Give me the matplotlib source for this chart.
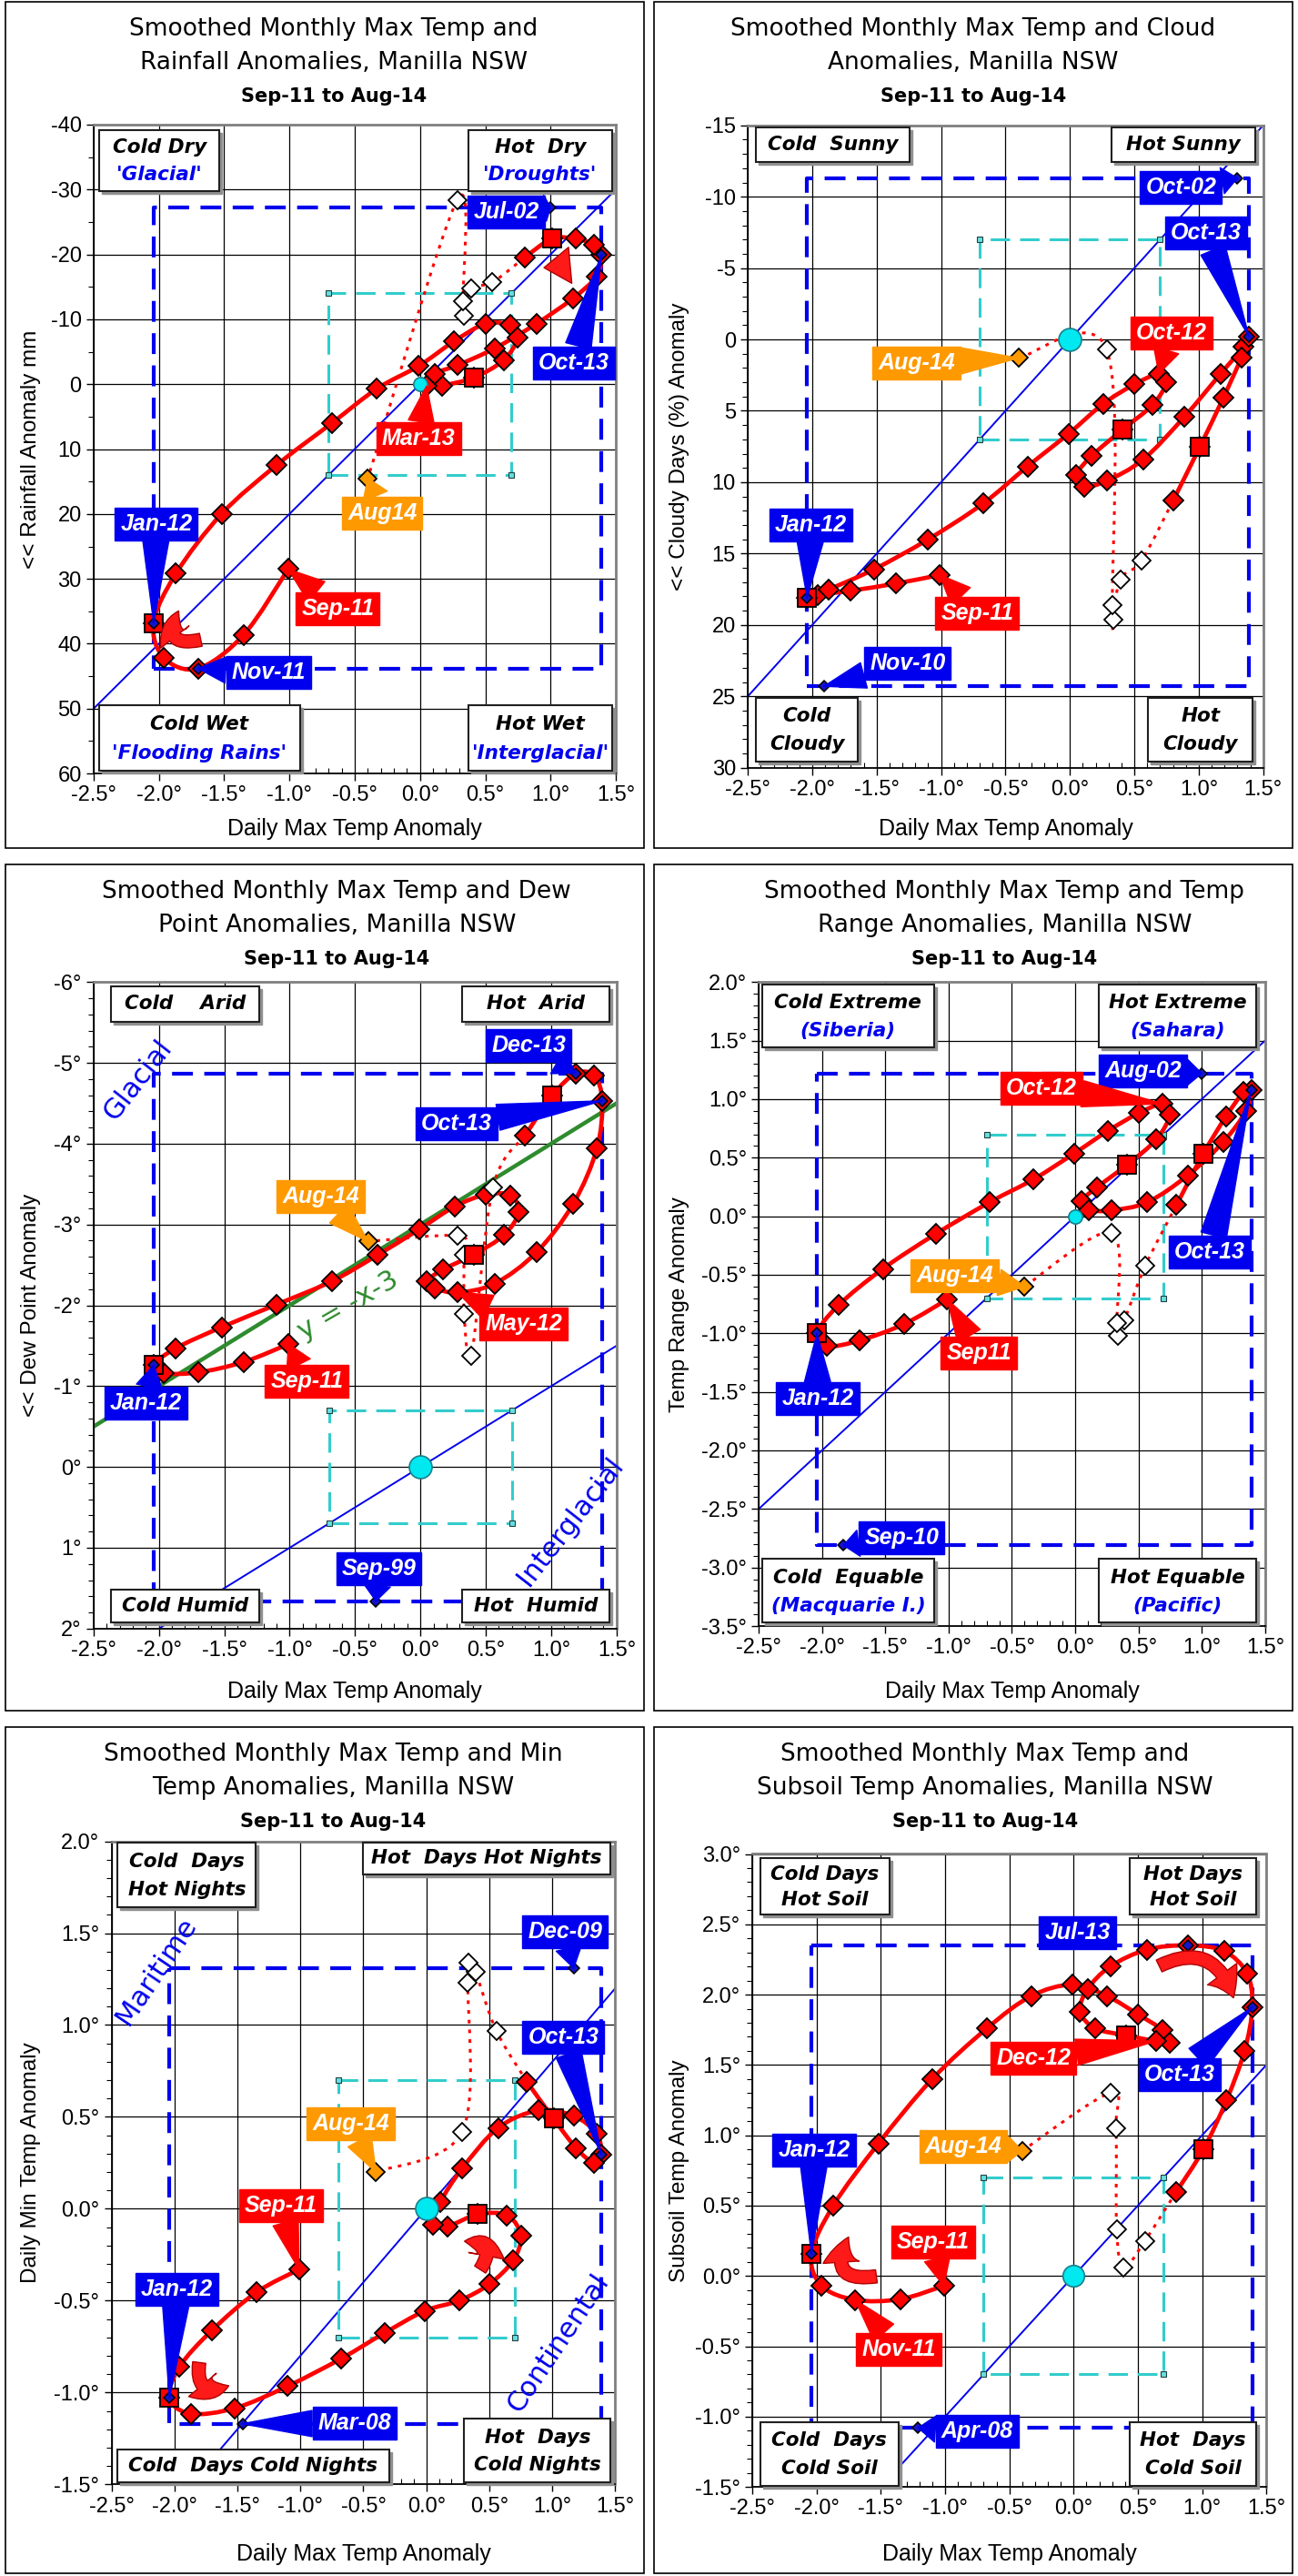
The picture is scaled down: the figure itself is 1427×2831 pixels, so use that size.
import numpy as np
import matplotlib
matplotlib.use("Agg")
import matplotlib.pyplot as plt
from matplotlib.path import Path
from matplotlib.patches import PathPatch, Rectangle, FancyArrowPatch
from matplotlib import font_manager, transforms

# ---------------- data ----------------
months = ['Sep-11', 'Oct-11', 'Nov-11', 'Dec-11', 'Jan-12', 'Feb-12', 'Mar-12', 'Apr-12',
          'May-12', 'Jun-12', 'Jul-12', 'Aug-12', 'Sep-12', 'Oct-12', 'Nov-12', 'Dec-12',
          'Jan-13', 'Feb-13', 'Mar-13', 'Apr-13', 'May-13', 'Jun-13', 'Jul-13', 'Aug-13',
          'Sep-13', 'Oct-13', 'Nov-13', 'Dec-13', 'Jan-14', 'Feb-14', 'Mar-14', 'Apr-14',
          'May-14', 'Jun-14', 'Jul-14', 'Aug-14']
n_smooth = 30  # Sep-11..Feb-14 smoothed; Mar-14..Jul-14 provisional; Aug-14 latest

max_anom = [-1.01, -1.35, -1.70, -1.96, -2.04, -1.87, -1.52, -1.10, -0.675, -0.33,
            -0.01, 0.26, 0.50, 0.69, 0.75, 0.64, 0.41, 0.17, 0.05, 0.11,
            0.285, 0.57, 0.89, 1.17, 1.35, 1.39, 1.33, 1.19, 1.01, 0.80,
            0.555, 0.39, 0.335, 0.33, 0.285, -0.40]

rain_anom = [28.5, 38.6, 43.8, 42.2, 36.8, 29.2, 20.0, 12.5, 6.0, 0.7,
             -2.8, -6.6, -9.3, -9.1, -7.2, -3.7, -1.0, 0.2, 0.3, -1.6,
             -2.9, -5.5, -9.3, -13.2, -16.6, -19.9, -21.5, -22.4, -22.4, -19.5,
             -15.7, -14.7, -10.5, -12.8, -28.4, 14.5]

cloud_anom = [16.5, 17.1, 17.6, 17.9, 18.1, 17.5, 16.1, 14.0, 11.5, 8.9,
              6.6, 4.5, 3.15, 2.4, 3.0, 4.6, 6.3, 8.15, 9.5, 10.3,
              9.9, 8.4, 5.4, 2.4, 0.5, -0.2, 1.3, 4.1, 7.5, 11.3,
              15.5, 16.8, 19.6, 18.6, 0.7, 1.3]

dew_anom = [-1.52, -1.30, -1.17, -1.16, -1.26, -1.47, -1.73, -2.01, -2.30, -2.62,
            -2.94, -3.22, -3.37, -3.36, -3.15, -2.87, -2.63, -2.44, -2.30, -2.21,
            -2.16, -2.27, -2.66, -3.26, -3.94, -4.53, -4.84, -4.87, -4.60, -4.10,
            -3.46, -1.38, -1.89, -2.62, -2.86, -2.79]

range_anom = [-0.71, -0.92, -1.06, -1.11, -1.00, -0.76, -0.45, -0.15, 0.12, 0.315,
              0.535, 0.73, 0.88, 0.96, 0.87, 0.655, 0.44, 0.245, 0.13, 0.055,
              0.05, 0.12, 0.35, 0.635, 0.90, 1.08, 1.06, 0.85, 0.53, 0.095,
              -0.42, -0.885, -1.02, -0.91, -0.14, -0.60]

min_anom = [-0.33, -0.455, -0.66, -0.86, -1.03, -1.115, -1.085, -0.965, -0.815, -0.675,
            -0.555, -0.50, -0.41, -0.28, -0.145, -0.035, -0.03, -0.095, -0.085, 0.035,
            0.22, 0.44, 0.535, 0.505, 0.41, 0.295, 0.25, 0.33, 0.49, 0.69,
            0.97, 1.29, 1.34, 1.23, 0.42, 0.20]

soil_anom = [-0.07, -0.165, -0.17, -0.07, 0.155, 0.50, 0.94, 1.40, 1.76, 1.99,
             2.07, 1.99, 1.86, 1.75, 1.66, 1.67, 1.71, 1.76, 1.88, 2.04,
             2.20, 2.32, 2.35, 2.31, 2.15, 1.91, 1.60, 1.25, 0.90, 0.60,
             0.25, 0.06, 0.33, 1.05, 1.30, 0.89]

# record extremes (blue diamonds) for each pair
rain_ext_months = ['Jul-02', 'Oct-13', 'Jan-12', 'Nov-11']
rain_ext_x = [1.00, 1.39, -2.04, -1.70]
rain_ext_y = [-27.2, -19.9, 36.8, 43.8]

cloud_ext_months = ['Oct-02', 'Oct-13', 'Jan-12', 'Nov-10']
cloud_ext_x = [1.30, 1.39, -2.04, -1.91]
cloud_ext_y = [-11.3, -0.2, 18.1, 24.3]

dew_ext_months = ['Dec-13', 'Oct-13', 'Jan-12', 'Sep-99']
dew_ext_x = [1.19, 1.39, -2.04, -0.34]
dew_ext_y = [-4.87, -4.53, -1.26, 1.66]

range_ext_months = ['Aug-02', 'Oct-13', 'Jan-12', 'Sep-10']
range_ext_x = [1.00, 1.39, -2.04, -1.83]
range_ext_y = [1.22, 1.08, -1.00, -2.81]

min_ext_months = ['Dec-09', 'Oct-13', 'Jan-12', 'Mar-08']
min_ext_x = [1.17, 1.39, -2.04, -1.46]
min_ext_y = [1.31, 0.295, -1.03, -1.17]

soil_ext_months = ['Jul-13', 'Oct-13', 'Jan-12', 'Apr-08']
soil_ext_x = [0.89, 1.39, -2.04, -1.21]
soil_ext_y = [2.35, 1.91, 0.155, -1.08]

x_ticks = [-2.5, -2.0, -1.5, -1.0, -0.5, 0.0, 0.5, 1.0, 1.5]

# ---------------- styling ----------------
RED = '#ff0000'
BLUE = '#0000ee'
ORANGE = '#ff9900'
CYAN = '#33cccc'

_names = {f.name for f in font_manager.fontManager.ttflist}
if 'Liberation Sans Narrow' in _names:
    YLAB_FONT, YLAB_SIZE = 'Liberation Sans Narrow', 21
else:
    YLAB_FONT, YLAB_SIZE = 'Liberation Sans', 17.5

plt.rcParams['font.family'] = ['DejaVu Sans']

W, H = 1427, 2831
fig = plt.figure(figsize=(W / 100, H / 100), dpi=100)

panel_left = [6, 719]
panel_top = [2, 950, 1898]
panel_w = 702
panel_h = 930


def smooth_path(xs, ys):
    pts = np.column_stack([xs, ys]).astype(float)
    n = len(pts)
    verts = [pts[0]]
    codes = [Path.MOVETO]
    for i in range(n - 1):
        p0 = pts[i - 1] if i > 0 else pts[i]
        p1 = pts[i]
        p2 = pts[i + 1]
        p3 = pts[i + 2] if i + 2 < n else pts[i + 1]
        verts += [p1 + (p2 - p0) / 6, p2 - (p3 - p1) / 6, p2]
        codes += [Path.CURVE4] * 3
    return Path(verts, codes)


def draw_panel(col, row, p):
    pl, pt = panel_left[col], panel_top[row]
    pw, ph = panel_w, panel_h
    fig.add_artist(Rectangle((pl / W, 1 - (pt + ph) / H), pw / W, ph / H,
                             transform=fig.transFigure, fill=False, ec='black', lw=1.2))
    l, r, t, b = p['box']
    ax = fig.add_axes([(pl + l * pw) / W, 1 - (pt + b * ph) / H,
                       (r - l) * pw / W, (b - t) * ph / H])

    # titles
    tx = (pl + p['tx'] * pw) / W
    fig.text(tx, 1 - (pt + 0.032 * ph) / H, p['title'][0], ha='center', va='center', size=19)
    fig.text(tx, 1 - (pt + 0.072 * ph) / H, p['title'][1], ha='center', va='center', size=19)
    fig.text(tx, 1 - (pt + 0.112 * ph) / H, 'Sep-11 to Aug-14', ha='center', va='center',
             size=15, weight='bold')
    fig.text((pl + 0.04 * pw) / W, 1 - (pt + (t + b) / 2 * ph) / H, p['ylabel'],
             rotation=90, ha='center', va='center', size=YLAB_SIZE, family=YLAB_FONT)
    fig.text((pl + (l + r) / 2 * pw) / W, 1 - (pt + 0.977 * ph) / H, 'Daily Max Temp Anomaly',
             ha='center', va='center', size=18, family='Liberation Sans')

    xs = np.array(max_anom)
    ys = np.array(p['y'])
    ex = np.array(p['ext_x'])
    ey = np.array(p['ext_y'])

    ax.set_xlim(-2.5, 1.5)
    ax.set_ylim(*p['ylim'])
    ax.set_xticks(x_ticks)
    ax.set_xticklabels([f'{v:.1f}°' for v in x_ticks])
    ax.set_yticks(p['yticks'])
    ax.set_yticklabels([p['yfmt'](v) for v in p['yticks']])
    ax.set_xticks(np.arange(-2.5, 1.501, 0.1), minor=True)
    ax.set_yticks(p['yminor'], minor=True)
    for lab in ax.get_xticklabels() + ax.get_yticklabels():
        lab.set_family('Liberation Sans')
        lab.set_fontsize(17)
    ax.tick_params(which='major', length=6, width=1, direction='out')
    ax.tick_params(axis='x', which='minor', length=4, width=0.8, direction='in')
    ax.tick_params(axis='y', which='minor', length=4, width=0.8, direction='out')
    ax.grid(True, which='major', color='black', lw=0.9)
    ax.set_axisbelow(True)
    for s in ['left', 'bottom']:
        ax.spines[s].set_color('black')
        ax.spines[s].set_linewidth(1.3)
    for s in ['top', 'right']:
        ax.spines[s].set_color('#808080')
        ax.spines[s].set_linewidth(2)

    # reference lines
    lx = np.array([-2.5, 1.5])
    ax.plot(lx, p['slope'] * lx, color=BLUE, lw=1.4, zorder=1.5)
    if p.get('green'):
        ax.plot(lx, -lx - 3, color='#2e8b2e', lw=3.2, zorder=1.6)

    # central +-0.7 box
    bx, by = 0.7, p['cbox']
    cx = [-bx, bx, bx, -bx, -bx]
    cy = [by, by, -by, -by, by]
    ax.plot(cx, cy, color=CYAN, lw=2.2, dashes=(7, 3.6), zorder=1.8)
    ax.plot(cx[:4], cy[:4], 's', ms=4, mfc='#66e0e0', mec='#204040', mew=0.8, ls='none', zorder=1.9)

    # record-extremes box
    rx0, rx1, ry0, ry1 = ex.min(), ex.max(), ey.min(), ey.max()
    ax.plot([rx0, rx1, rx1, rx0, rx0], [ry1, ry1, ry0, ry0, ry1], color=BLUE, lw=3,
            dashes=(5.5, 3), zorder=2)

    # trajectory
    ax.add_patch(PathPatch(smooth_path(xs[:n_smooth], ys[:n_smooth]), fill=False,
                           ec=RED, lw=3.4, zorder=3))
    ax.add_patch(PathPatch(smooth_path(xs[n_smooth - 1:], ys[n_smooth - 1:]), fill=False,
                           ec=RED, lw=2.2, linestyle=(0, (1.3, 2.2)), zorder=3))

    ax.plot(xs[:n_smooth], ys[:n_smooth], 'D', ms=11, mfc=RED, mec='black', mew=1.3,
            ls='none', zorder=4)
    jan = [i for i, m in enumerate(months[:n_smooth]) if m.startswith('Jan')]
    ax.plot(xs[jan], ys[jan], 's', ms=15, mfc=RED, mec='black', mew=1.3, ls='none', zorder=4.2)
    ax.plot(xs[n_smooth:-1], ys[n_smooth:-1], 'D', ms=10.5, mfc='white', mec='black', mew=1.3,
            ls='none', zorder=4)
    ax.plot(xs[-1:], ys[-1:], 'D', ms=10, mfc=ORANGE, mec='black', mew=1.3, ls='none', zorder=4.3)
    ax.plot([0], [0], 'o', ms=p['circle'], mfc='#00e8f0', mec='#1a7f8a', mew=1.2, zorder=4.1)
    ax.plot(ex, ey, 'D', ms=6.6, mfc='#1414c8', mec='black', mew=1.1, ls='none', zorder=5)

    def target(name):
        if name in p['ext_m']:
            i = p['ext_m'].index(name)
            return ex[i], ey[i]
        i = months.index(name)
        return xs[i], ys[i]

    # call-out labels
    for text, colr, lx_, ly_, ref in p['callouts']:
        kw = dict(ha='center', va='center', color='white', size=18, weight='bold',
                  style='italic', family='Liberation Sans', zorder=6,
                  bbox=dict(boxstyle='square,pad=0.24', fc=colr, ec=colr))
        if ref is None:
            ax.text(lx_, ly_, text, **kw)
        else:
            ax.annotate(text, xy=target(ref), xytext=(lx_, ly_), textcoords='data',
                        arrowprops=dict(arrowstyle='wedge,tail_width=1.15,shrink_factor=0.5',
                                        fc=colr, ec=colr, shrinkA=0, shrinkB=0), **kw)

    # quadrant boxes
    shadow = transforms.offset_copy(ax.transAxes, fig=fig, x=3, y=-3, units='dots')
    for x0, y0, x1, y1, lines in p['quads']:
        ax.add_patch(Rectangle((x0, y0), x1 - x0, y1 - y0, transform=shadow, fc='#909090',
                               ec='#909090', lw=1, zorder=6.5, clip_on=False))
        ax.add_patch(Rectangle((x0, y0), x1 - x0, y1 - y0, transform=ax.transAxes, fc='white',
                               ec='#202020', lw=1.5, zorder=6.6, clip_on=False))
        if len(lines) == 1:
            pos = [(y0 + y1) / 2]
        else:
            hgt = y1 - y0
            pos = [y0 + 0.71 * hgt, y0 + 0.27 * hgt]
        for (txt, tc), yy in zip(lines, pos):
            ax.text((x0 + x1) / 2, yy, txt, transform=ax.transAxes, ha='center', va='center',
                    size=15.5, weight='bold', style='italic', color=tc, zorder=7)

    # rotated regime names
    for txt, tx_, ty_, rot in p.get('regimes', []):
        ax.text(tx_, ty_, txt, rotation=rot, ha='center', va='center', color=BLUE, size=22,
                zorder=5.5, rotation_mode='anchor')
    if p.get('green'):
        ax.text(-0.55, -2.0, 'y = -x-3', rotation=30, ha='center', va='center',
                color='#2e8b2e', size=22, zorder=5.5, rotation_mode='anchor')

    # curved direction arrows
    for xa, ya, xb, yb, rad in p.get('arrows', []):
        ax.add_patch(FancyArrowPatch((xa, ya), (xb, yb), connectionstyle=f'arc3,rad={rad}',
                                     arrowstyle='simple,head_width=1.1,head_length=0.8,tail_width=0.4',
                                     mutation_scale=26, fc='#ff1a1a', ec='#b00000', lw=1,
                                     zorder=5.2))
    return ax


def fmt_int(v):
    return f'{v:.0f}'


def fmt_deg0(v):
    return f'{v:.0f}°' if abs(v) > 1e-9 else '0°'


def fmt_deg1(v):
    return f'{v:.1f}°' if abs(v) > 1e-9 else '0.0°'


K = 'black'
panels = [
    dict(title=['Smoothed Monthly Max Temp and', 'Rainfall Anomalies, Manilla NSW'], tx=0.514,
         box=(0.138, 0.956, 0.145, 0.912), ylabel='<< Rainfall Anomaly mm',
         y=rain_anom, ext_m=rain_ext_months, ext_x=rain_ext_x, ext_y=rain_ext_y,
         ylim=(60, -40), yticks=list(range(-40, 61, 10)), yminor=list(range(-40, 61, 5)),
         yfmt=fmt_int, slope=-20, cbox=14, circle=11,
         callouts=[('Jul-02', BLUE, 0.66, -26.5, 'Jul-02'), ('Oct-13', BLUE, 1.18, -3.3, 'Oct-13'),
                   ('Mar-13', RED, -0.01, 8.4, 'Mar-13'), ('Aug14', ORANGE, -0.29, 19.85, 'Aug-14'),
                   ('Jan-12', BLUE, -2.02, 21.5, 'Jan-12'), ('Sep-11', RED, -0.63, 34.6, 'Sep-11'),
                   ('Nov-11', BLUE, -1.16, 44.4, 'Nov-11')],
         quads=[(0.011, 0.898, 0.241, 0.992, [('Cold Dry', K), ("'Glacial'", BLUE)]),
                (0.718, 0.898, 0.993, 0.992, [('Hot  Dry', K), ("'Droughts'", BLUE)]),
                (0.011, 0.004, 0.395, 0.106, [('Cold Wet', K), ("'Flooding Rains'", BLUE)]),
                (0.718, 0.004, 0.993, 0.106, [('Hot Wet', K), ("'Interglacial'", BLUE)])],
         arrows=[(-1.66, 39.3, -1.84, 34.6, -1.1), (1.05, -14.3, 0.93, -17.9, 1.0)]),
    dict(title=['Smoothed Monthly Max Temp and Cloud', 'Anomalies, Manilla NSW'], tx=0.50,
         box=(0.147, 0.954, 0.146, 0.905), ylabel='<< Cloudy Days (%) Anomaly',
         y=cloud_anom, ext_m=cloud_ext_months, ext_x=cloud_ext_x, ext_y=cloud_ext_y,
         ylim=(30, -15), yticks=list(range(-15, 31, 5)), yminor=list(range(-15, 31, 1)),
         yfmt=fmt_int, slope=-10, cbox=7, circle=18,
         callouts=[('Oct-02', BLUE, 0.862, -10.65, 'Oct-02'), ('Oct-13', BLUE, 1.056, -7.44, 'Oct-13'),
                   ('Oct-12', RED, 0.787, -0.44, 'Oct-12'), ('Aug-14', ORANGE, -1.19, 1.64, 'Aug-14'),
                   ('Jan-12', BLUE, -2.01, 13.0, 'Jan-12'), ('Sep-11', RED, -0.72, 19.2, 'Sep-11'),
                   ('Nov-10', BLUE, -1.26, 22.7, 'Nov-10')],
         quads=[(0.016, 0.943, 0.313, 0.997, [('Cold  Sunny', K)]),
                (0.706, 0.943, 0.984, 0.997, [('Hot Sunny', K)]),
                (0.016, 0.010, 0.213, 0.108, [('Cold', K), ('Cloudy', K)]),
                (0.777, 0.010, 0.980, 0.108, [('Hot', K), ('Cloudy', K)])]),
    dict(title=['Smoothed Monthly Max Temp and Dew', 'Point Anomalies, Manilla NSW'], tx=0.519,
         box=(0.138, 0.957, 0.139, 0.903), ylabel='<< Dew Point Anomaly',
         y=dew_anom, ext_m=dew_ext_months, ext_x=dew_ext_x, ext_y=dew_ext_y,
         ylim=(2, -6), yticks=list(range(-6, 3)), yminor=list(np.arange(-6, 2.01, 0.2)),
         yfmt=fmt_deg0, slope=-1, cbox=0.7, circle=18, green=True,
         callouts=[('Dec-13', BLUE, 0.828, -5.215, 'Dec-13'), ('Oct-13', BLUE, 0.278, -4.246, 'Oct-13'),
                   ('Aug-14', ORANGE, -0.762, -3.345, 'Aug-14'), ('May-12', RED, 0.79, -1.77, 'May-13'),
                   ('Sep-11', RED, -0.868, -1.058, 'Sep-11'), ('Jan-12', BLUE, -2.10, -0.785, 'Jan-12'),
                   ('Sep-99', BLUE, -0.318, 1.263, 'Sep-99')],
         quads=[(0.034, 0.939, 0.316, 0.993, [('Cold    Arid', K)]),
                (0.704, 0.939, 0.986, 0.993, [('Hot  Arid', K)]),
                (0.034, 0.009, 0.316, 0.060, [('Cold Humid', K)]),
                (0.704, 0.009, 0.986, 0.060, [('Hot  Humid', K)])],
         regimes=[('Glacial', -2.164, -4.79, 52), ('Interglacial', 1.148, 0.67, 52)]),
    dict(title=['Smoothed Monthly Max Temp and Temp', 'Range Anomalies, Manilla NSW'], tx=0.549,
         box=(0.164, 0.957, 0.139, 0.900), ylabel='Temp Range Anomaly',
         y=range_anom, ext_m=range_ext_months, ext_x=range_ext_x, ext_y=range_ext_y,
         ylim=(-3.5, 2.0), yticks=list(np.arange(-3.5, 2.01, 0.5)),
         yminor=list(np.arange(-3.5, 2.01, 0.1)),
         yfmt=fmt_deg1, slope=1, cbox=0.7, circle=11,
         callouts=[('Aug-02', BLUE, 0.535, 1.242, 'Aug-02'), ('Oct-12', RED, -0.269, 1.09, 'Oct-12'),
                   ('Oct-13', BLUE, 1.06, -0.306, 'Oct-13'), ('Aug-14', ORANGE, -0.951, -0.508, 'Aug-14'),
                   ('Sep11', RED, -0.761, -1.167, 'Sep-11'), ('Jan-12', BLUE, -2.034, -1.558, 'Jan-12'),
                   ('Sep-10', BLUE, -1.371, -2.744, 'Sep-10')],
         quads=[(0.007, 0.898, 0.346, 0.996, [('Cold Extreme', K), ('(Siberia)', BLUE)]),
                (0.672, 0.898, 0.982, 0.996, [('Hot Extreme', K), ('(Sahara)', BLUE)]),
                (0.007, 0.005, 0.346, 0.104, [('Cold  Equable', K), ('(Macquarie I.)', BLUE)]),
                (0.672, 0.005, 0.982, 0.104, [('Hot Equable', K), ('(Pacific)', BLUE)])]),
    dict(title=['Smoothed Monthly Max Temp and Min', 'Temp Anomalies, Manilla NSW'], tx=0.513,
         box=(0.166, 0.955, 0.135, 0.895), ylabel='Daily Min Temp Anomaly',
         y=min_anom, ext_m=min_ext_months, ext_x=min_ext_x, ext_y=min_ext_y,
         ylim=(-1.5, 2.0), yticks=list(np.arange(-1.5, 2.01, 0.5)),
         yminor=list(np.arange(-1.5, 2.01, 0.1)),
         yfmt=fmt_deg1, slope=0.8, cbox=0.7, circle=18,
         callouts=[('Dec-09', BLUE, 1.10, 1.51, 'Dec-09'), ('Oct-13', BLUE, 1.087, 0.934, 'Oct-13'),
                   ('Aug-14', ORANGE, -0.60, 0.462, 'Aug-14'), ('Sep-11', RED, -1.155, 0.018, 'Sep-11'),
                   ('Jan-12', BLUE, -1.981, -0.438, 'Jan-12'), ('Mar-08', BLUE, -0.569, -1.168, 'Mar-08')],
         quads=[(0.012, 0.897, 0.287, 0.998, [('Cold  Days', K), ('Hot Nights', K)]),
                (0.499, 0.949, 0.991, 0.998, [('Hot  Days Hot Nights', K)]),
                (0.012, 0.003, 0.551, 0.054, [('Cold  Days Cold Nights', K)]),
                (0.700, 0.003, 0.991, 0.102, [('Hot  Days', K), ('Cold Nights', K)])],
         regimes=[('Maritime', -2.146, 1.294, 56), ('Continental', 1.044, -0.733, 56)],
         arrows=[(-1.80, -0.823, -1.55, -0.958, 0.9), (0.416, -0.342, 0.283, -0.177, 1.0)]),
    dict(title=['Smoothed Monthly Max Temp and', 'Subsoil Temp Anomalies, Manilla NSW'], tx=0.518,
         box=(0.154, 0.959, 0.150, 0.898), ylabel='Subsoil Temp Anomaly',
         y=soil_anom, ext_m=soil_ext_months, ext_x=soil_ext_x, ext_y=soil_ext_y,
         ylim=(-1.5, 3.0), yticks=list(np.arange(-1.5, 3.01, 0.5)),
         yminor=list(np.arange(-1.5, 3.01, 0.1)),
         yfmt=fmt_deg1, slope=1, cbox=0.7, circle=17,
         callouts=[('Jul-13', BLUE, 0.03, 2.439, None), ('Dec-12', RED, -0.311, 1.548, 'Dec-12'),
                   ('Oct-13', BLUE, 0.827, 1.43, 'Oct-13'), ('Jan-12', BLUE, -2.019, 0.893, 'Jan-12'),
                   ('Aug-14', ORANGE, -0.858, 0.921, 'Aug-14'), ('Sep-11', RED, -1.092, 0.242, 'Sep-11'),
                   ('Nov-11', RED, -1.362, -0.523, 'Nov-11'), ('Apr-08', BLUE, -0.75, -1.107, 'Apr-08')],
         quads=[(0.015, 0.904, 0.267, 0.993, [('Cold Days', K), ('Hot Soil', K)]),
                (0.734, 0.904, 0.980, 0.993, [('Hot Days', K), ('Hot Soil', K)]),
                (0.015, 0.002, 0.285, 0.102, [('Cold  Days', K), ('Cold Soil', K)]),
                (0.734, 0.002, 0.980, 0.102, [('Hot  Days', K), ('Cold Soil', K)])],
         arrows=[(-1.515, 0.0, -1.742, 0.293, -1.0), (0.648, 2.196, 1.25, 1.96, -0.6)]),
]

for k, p in enumerate(panels):
    draw_panel(k % 2, k // 2, p)

fig.savefig('out.png', dpi=100, facecolor='white')
